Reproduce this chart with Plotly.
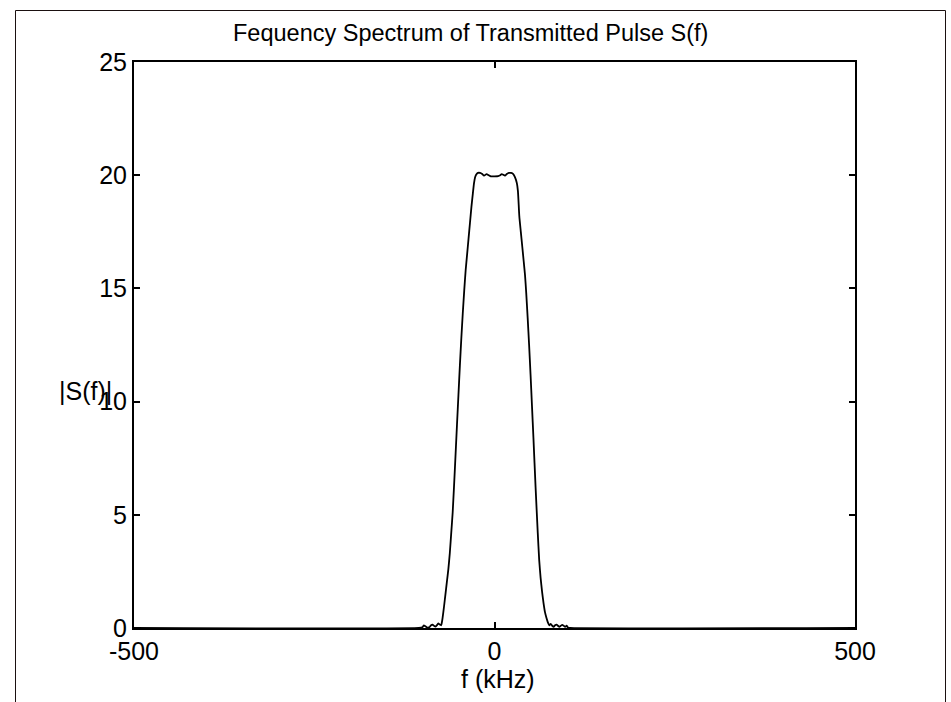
import plotly.graph_objects as go

# ---- data ----
f_khz = [-500, -105, -100, -98, -96, -93, -90, -88, -86, -84, -82, -80, -78, -76, -74,
         -73, -72, -70, -68, -66, -64, -62, -60, -58, -55, -52, -50, -48, -46, -44, -42, -40,
         -38, -36, -34, -32, -30, -28.4, -27, -25.5, -23, -20, -17, -14.5, -11, -8, -5, 0,
         5, 8, 10, 14.5, 17, 20, 23, 26, 28.5, 31, 32.5, 34.4, 36.5, 38.5, 40.5, 42.3, 44,
         46, 48, 50, 52, 54, 57, 60, 62, 64, 66, 68, 70, 72, 74, 76, 78, 80, 82, 84, 86, 88,
         90, 92, 94, 96, 98, 100, 102, 105, 500]
s_mag = [0, 0, 0.03, 0.12, 0.08, 0.02, 0.04, 0.12, 0.15, 0.1, 0.06, 0.12, 0.2, 0.15, 0.12,
         0.25, 0.45, 0.95, 1.5, 2.05, 2.6, 3.3, 4.2, 5.1, 7.0, 9.0, 10.3, 11.6, 12.8, 13.9, 14.9, 15.8,
         16.5, 17.2, 17.9, 18.6, 19.2, 19.65, 19.9, 20.02, 20.1, 20.1, 20.05, 19.98, 20.05, 20.0, 19.95, 19.95,
         19.96, 20.0, 20.05, 19.98, 20.05, 20.1, 20.1, 20.05, 19.9, 19.65, 19.3, 18.2, 17.5, 16.85, 16.2, 15.6, 14.8,
         13.7, 12.5, 11.2, 9.8, 8.4, 6.2, 4.2, 3.0, 2.2, 1.6, 1.1, 0.7, 0.45, 0.25, 0.12, 0.18, 0.1, 0.05, 0.12, 0.15, 0.1,
         0.05, 0.1, 0.14, 0.1, 0.05, 0.1, 0.02, 0, 0]

x_ticks = [-500, 0, 500]
y_ticks = [0, 5, 10, 15, 20, 25]

title_text = "Fequency Spectrum of Transmitted Pulse S(f)"
x_label = "f (kHz)"
y_label = "|S(f)|"

FONT = "Liberation Sans, Arial, sans-serif"

# plot box in pixels
L, R, T, B = 134, 855, 62, 628
W, H = 951, 702
pw, ph = R - L, B - T

def px(x):
    return (x - L) / pw

def py(y):
    return (B - y) / ph

fig = go.Figure()
fig.add_trace(go.Scatter(x=f_khz, y=s_mag, mode="lines",
                         line=dict(color="black", width=1.8, shape="spline", smoothing=0.5),
                         showlegend=False, hoverinfo="skip"))

axis_common = dict(showline=True, linecolor="black", linewidth=2, mirror="allticks",
                   ticks="inside", ticklen=6, tickwidth=1.5, tickcolor="black",
                   showgrid=False, zeroline=False,
                   tickfont=dict(family=FONT, size=25, color="black"))

fig.update_layout(
    width=W, height=H,
    margin=dict(l=L, r=W - R, t=T, b=H - B),
    paper_bgcolor="white", plot_bgcolor="white",
    xaxis=dict(range=[-500, 500], tickvals=x_ticks, ticktext=[str(v) for v in x_ticks], **axis_common),
    yaxis=dict(range=[0, 25], tickvals=y_ticks, ticktext=[str(v) for v in y_ticks], **axis_common),
    font=dict(family=FONT, size=25, color="black"),
)

fig.add_annotation(text=title_text, xref="paper", yref="paper", x=px(470.5), y=py(33),
                   xanchor="center", yanchor="middle", showarrow=False,
                   font=dict(family=FONT, size=23.5, color="black"))
fig.add_annotation(text=x_label, xref="paper", yref="paper", x=px(498), y=py(679),
                   xanchor="center", yanchor="middle", showarrow=False,
                   font=dict(family=FONT, size=25, color="black"))
fig.add_annotation(text=y_label, xref="paper", yref="paper", x=px(85), y=py(391),
                   xanchor="center", yanchor="middle", showarrow=False,
                   font=dict(family=FONT, size=25, color="black"))

# outer frame (open at the bottom, as in the reference)
fx0, fx1, fy_top, fy_bot = px(15.5), px(945.5), py(10.5), py(720)
for (a, b, c, d) in [(fx0, fy_bot, fx0, fy_top), (fx0, fy_top, fx1, fy_top), (fx1, fy_top, fx1, fy_bot)]:
    fig.add_shape(type="line", xref="paper", yref="paper", x0=a, y0=b, x1=c, y1=d,
                  line=dict(color="#1a1010", width=1))

fig.write_html("out.html")
